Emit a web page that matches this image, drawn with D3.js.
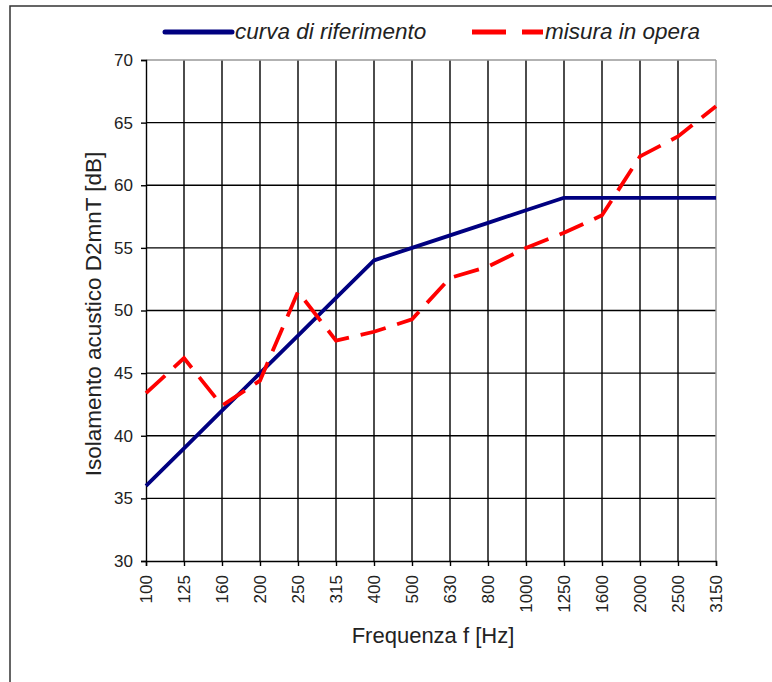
<!DOCTYPE html>
<html><head><meta charset="utf-8">
<script src="https://cdn.jsdelivr.net/npm/d3@7/dist/d3.min.js"></script>
<style>body{margin:0;background:#fff}svg{display:block}</style>
</head><body>
<script>
const categories = ["100","125","160","200","250","315","400","500","630","800","1000","1250","1600","2000","2500","3150"];
const riferimento = [36,39,42,45,48,51,54,55,56,57,58,59,59,59,59,59];
const misura = [43.4,46.2,42.4,44.4,51.5,47.6,48.3,49.3,52.6,53.5,55.0,56.2,57.6,62.3,63.9,66.3];
const yTicks = [30,35,40,45,50,55,60,65,70];

const W = 772, H = 682;
const svg = d3.select("body").append("svg").attr("width", W).attr("height", H);
const font = "Arial, 'Liberation Sans', sans-serif";

// outer frame
svg.append("path").attr("d", `M10,${H+2} L10,6 L${W+2},6`).attr("fill","none").attr("stroke","#333").attr("stroke-width",1.5);

const x = d3.scalePoint().domain(categories).range([146, 716]);
const y = d3.scaleLinear().domain([30,70]).range([561, 60]);

// grid
const g = svg.append("g");
g.selectAll("line.v").data(categories.slice(1,-1)).join("line")
  .attr("x1", d=>x(d)).attr("x2", d=>x(d)).attr("y1", y(30)).attr("y2", y(70))
  .attr("stroke","#000").attr("stroke-width",1.4);
g.selectAll("line.h").data(yTicks.slice(1,-1)).join("line")
  .attr("x1", x(categories[0])).attr("x2", x(categories[15])).attr("y1", d=>y(d)).attr("y2", d=>y(d))
  .attr("stroke","#000").attr("stroke-width",1.4);
// top & right border grey
g.append("line").attr("x1",x(categories[0])).attr("x2",x(categories[15])).attr("y1",y(70)).attr("y2",y(70)).attr("stroke","#999").attr("stroke-width",1.4);
g.append("line").attr("x1",x(categories[15])).attr("x2",x(categories[15])).attr("y1",y(70)).attr("y2",y(30)).attr("stroke","#999").attr("stroke-width",1.4);

// axes
const yAxis = d3.axisLeft(y).tickValues(yTicks).tickSize(5).tickPadding(8);
const ya = svg.append("g").attr("transform", `translate(${x(categories[0])},0)`).call(yAxis);
ya.select(".domain").attr("stroke","#000").attr("stroke-width",1.4);
ya.selectAll(".tick line").attr("stroke","#000").attr("stroke-width",1.4);
ya.selectAll("text").attr("font-family",font).attr("font-size",17).attr("fill","#222");

const xAxis = d3.axisBottom(x).tickSize(5).tickPadding(0);
const xa = svg.append("g").attr("transform", `translate(0,${y(30)})`).call(xAxis);
xa.select(".domain").attr("stroke","#000").attr("stroke-width",1.4);
xa.selectAll(".tick line").attr("stroke","#000").attr("stroke-width",1.4);
xa.selectAll("text").attr("font-family",font).attr("font-size",17).attr("fill","#222")
  .attr("transform","rotate(-90)").attr("text-anchor","end").attr("dy","0.35em").attr("x",-14).attr("y",0);

// titles
svg.append("text").attr("x",433).attr("y",643).attr("text-anchor","middle")
  .attr("font-family",font).attr("font-size",22).attr("fill","#222").text("Frequenza f [Hz]");
svg.append("text").attr("transform","translate(101,314) rotate(-90)").attr("text-anchor","middle")
  .attr("font-family",font).attr("font-size",22.5).attr("fill","#222").text("Isolamento acustico D2mnT [dB]");

// lines
const line = d3.line().x((d,i)=>x(categories[i])).y(d=>y(d));
svg.append("path").datum(riferimento).attr("d",line).attr("fill","none")
  .attr("stroke","#000080").attr("stroke-width",3.8).attr("stroke-linejoin","round");
svg.append("path").datum(misura).attr("d",line).attr("fill","none")
  .attr("stroke","#ff0000").attr("stroke-width",3.8).attr("stroke-dasharray","26,12");

// legend
svg.append("line").attr("x1",165).attr("x2",232).attr("y1",32).attr("y2",32)
  .attr("stroke","#000080").attr("stroke-width",5).attr("stroke-linecap","round");
svg.append("text").attr("x",235).attr("y",39).attr("font-family",font).attr("font-style","italic")
  .attr("font-size",22.5).attr("fill","#222").text("curva di riferimento");
svg.append("line").attr("x1",472).attr("x2",543).attr("y1",32).attr("y2",32)
  .attr("stroke","#ff0000").attr("stroke-width",5).attr("stroke-dasharray","34,16");
svg.append("text").attr("x",545).attr("y",39).attr("font-family",font).attr("font-style","italic")
  .attr("font-size",22.5).attr("fill","#222").text("misura in opera");
</script>
</body></html>
